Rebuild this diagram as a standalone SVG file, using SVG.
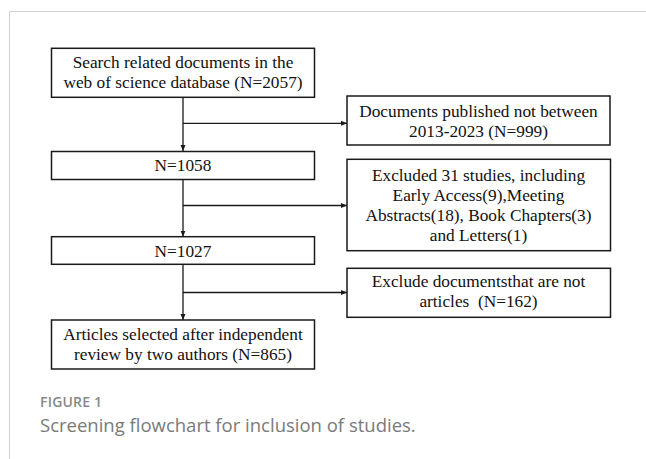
<svg xmlns="http://www.w3.org/2000/svg" width="646" height="459" viewBox="0 0 646 459">
<style>
.box{fill:#fff;stroke:#1a1a1a;stroke-width:1.5}
.t{font-family:"Liberation Serif","Times New Roman",serif;font-size:17.3px;fill:#111;text-anchor:middle}
.ln{fill:none;stroke:#1a1a1a;stroke-width:1.3}
.frame{fill:none;stroke:#d0d0d0;stroke-width:1}
.fig{font-family:"Open Sans","Noto Sans",sans-serif;font-size:14px;fill:#888;font-weight:600;letter-spacing:0.2px}
.cap{font-family:"Open Sans","Noto Sans",sans-serif;font-size:18.5px;fill:#7a7a7a}
</style>
<defs>
<marker id="ah" markerUnits="userSpaceOnUse" markerWidth="6" markerHeight="6" refX="6" refY="3" orient="auto">
<path d="M0,0.5 L6,3 L0,5.5 z" fill="#1a1a1a"/>
</marker>
</defs>
<rect width="646" height="459" fill="#fff"/>
<path class="frame" d="M9.5,459 V11.5 H646"/>
<g id="connectors">
<line class="ln" x1="183" y1="97.3" x2="183" y2="151" marker-end="url(#ah)"/>
<line class="ln" x1="183" y1="123.3" x2="347" y2="123.3" marker-end="url(#ah)"/>
<line class="ln" x1="183" y1="179.3" x2="183" y2="236.7" marker-end="url(#ah)"/>
<line class="ln" x1="183" y1="205.5" x2="347" y2="205.5" marker-end="url(#ah)"/>
<line class="ln" x1="183" y1="264.3" x2="183" y2="320" marker-end="url(#ah)"/>
<line class="ln" x1="183" y1="292.5" x2="347" y2="292.5" marker-end="url(#ah)"/>
</g>
<g id="search">
<rect class="box" x="51.5" y="48.3" width="263" height="49"/>
<text class="t" x="183" y="68.3">Search related documents in the</text>
<text class="t" x="183" y="87.7">web of science database (N=2057)</text>
</g>
<g id="excl-years">
<rect class="box" x="347" y="96" width="263" height="49"/>
<text class="t" x="478.5" y="116.7">Documents published not between</text>
<text class="t" x="478.5" y="136.5">2013-2023 (N=999)</text>
</g>
<g id="n1058">
<rect class="box" x="51.5" y="151.5" width="263" height="28"/>
<text class="t" x="183" y="171.3">N=1058</text>
</g>
<g id="excl-types">
<rect class="box" x="347" y="159.3" width="263.5" height="91.4"/>
<text class="t" x="478.5" y="181">Excluded 31 studies, including</text>
<text class="t" x="478.5" y="201">Early Access(9),Meeting</text>
<text class="t" x="478.5" y="221">Abstracts(18), Book Chapters(3)</text>
<text class="t" x="478.5" y="240.5">and Letters(1)</text>
</g>
<g id="n1027">
<rect class="box" x="51.5" y="236.7" width="263" height="27.6"/>
<text class="t" x="183" y="256.7">N=1027</text>
</g>
<g id="excl-nonarticles">
<rect class="box" x="347" y="268.3" width="263.5" height="49"/>
<text class="t" x="478.5" y="287.3">Exclude documentsthat are not</text>
<text class="t" x="478.5" y="307" xml:space="preserve">articles  (N=162)</text>
</g>
<g id="final">
<rect class="box" x="51.5" y="320" width="263" height="49"/>
<text class="t" x="183" y="340">Articles selected after independent</text>
<text class="t" x="183" y="360">review by two authors (N=865)</text>
</g>
<text class="fig" x="40" y="406.7">FIGURE 1</text>
<text class="cap" x="40" y="431.7">Screening flowchart for inclusion of studies.</text>
</svg>
